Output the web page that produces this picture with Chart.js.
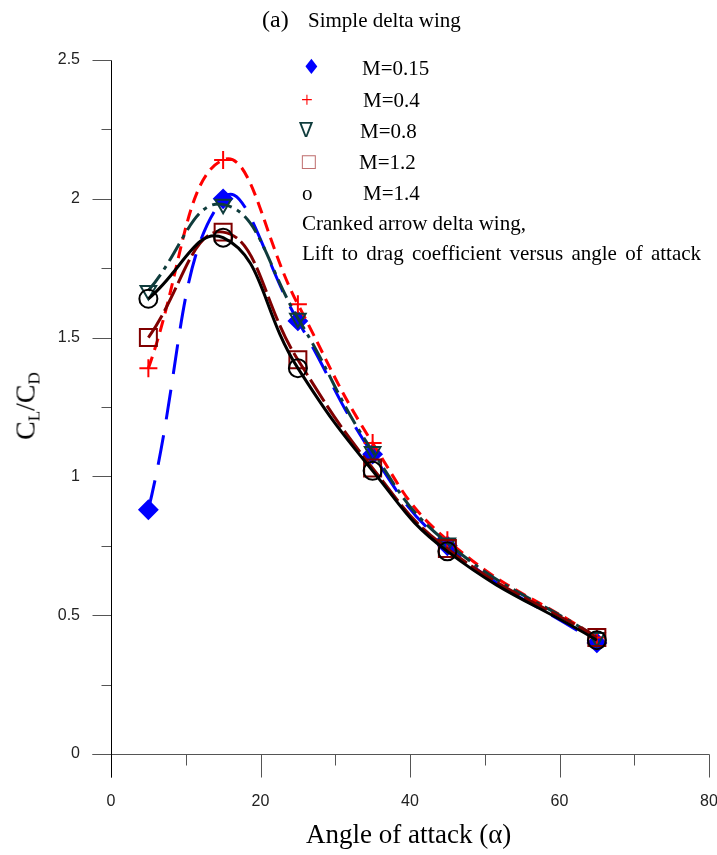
<!DOCTYPE html>
<html>
<head>
<meta charset="utf-8">
<script src="https://cdn.jsdelivr.net/npm/chart.js@4/dist/chart.umd.min.js"></script>
<style>
	html, body { margin: 0; padding: 0; background: #fff; overflow: hidden; }
	#wrap { position: relative; width: 717px; height: 855px; overflow: hidden; font-family: 'Liberation Serif', 'Times New Roman', serif; color: #000; }
	#wrap canvas { position: absolute; left: 0; top: 0; }
	.t { position: absolute; white-space: nowrap; line-height: 1; }
	.lg { font-size: 21px; }
	.mk { font-family: 'DejaVu Sans', sans-serif; }
	#ylab { font-size: 28px; transform: translate(-50%, -50%) rotate(-90deg); }
	#ylab sub { font-size: 17px; vertical-align: -5px; }
</style>
</head>
<body>
<div id="wrap">
	<canvas id="chart" width="723" height="855"></canvas>
	<div class="t" style="left:262px; top:7px; font-size:24px">(a)</div>
	<div class="t" style="left:308px; top:10px; font-size:21px">Simple delta wing</div>

	<div class="t lg mk" style="left:302px; top:57px; color:#0000ff; font-size:21px">&#9830;</div>
	<div class="t lg" style="left:362px; top:58px">M=0.15</div>
	<div class="t lg" style="left:301px; top:90px; color:#ff0000">+</div>
	<div class="t lg" style="left:363px; top:90px">M=0.4</div>
	<div class="t lg mk" style="left:299px; top:120px; color:#0f3c3c; font-size:21px">&#8711;</div>
	<div class="t lg" style="left:360px; top:121px">M=0.8</div>
	<div class="t lg mk" style="left:300px; top:152px; color:#c07070; font-size:18px">&#9633;</div>
	<div class="t lg" style="left:359px; top:152px">M=1.2</div>
	<div class="t lg" style="left:302px; top:183px">o</div>
	<div class="t lg" style="left:363px; top:183px">M=1.4</div>
	<div class="t lg" style="left:302px; top:213px">Cranked arrow delta wing,</div>
	<div class="t lg" style="left:302px; top:243px; word-spacing:3px">Lift to drag coefficient versus angle of attack</div>

	<div class="t" id="ylab" style="left:27px; top:406px">C<sub>L</sub>/C<sub>D</sub></div>
	<div class="t" style="left:306px; top:821px; font-size:27px">Angle of attack (&alpha;)</div>
</div>
<script>
const angles = [5, 15, 25, 35, 45, 65];
const m015 = [0.88, 2.00, 1.56, 1.08, 0.75, 0.40];
const m04 = [1.39, 2.14, 1.62, 1.12, 0.77, 0.42];
const m08 = [1.67, 1.98, 1.57, 1.09, 0.76, 0.42];
const m12 = [1.50, 1.88, 1.42, 1.03, 0.74, 0.42];
const m14 = [1.64, 1.86, 1.39, 1.02, 0.73, 0.41];

const xTicks = [0, 20, 40, 60, 80];
const xMinor = [10, 30, 50, 70];
const yTicks = [0, 0.5, 1, 1.5, 2, 2.5];
const yMinor = [0.25, 0.75, 1.25, 1.75, 2.25];

const pts = vals => vals.map((v, i) => ({ x: angles[i], y: v }));

const series = (label, vals, color, dash, style, extra = {}) => Object.assign({
	label,
	data: pts(vals),
	borderColor: color,
	borderWidth: 3,
	borderDash: dash,
	borderCapStyle: 'butt',
	tension: 0.45,
	fill: false,
	pointStyle: style,
	pointRadius: 9,
	pointBorderWidth: 2,
	pointBorderColor: color,
	pointBackgroundColor: 'rgba(0,0,0,0)'
}, extra);

const axesPlugin = {
	id: 'axes',
	beforeDatasetsDraw(chart) {
		const { ctx, scales: { x, y } } = chart;
		const px = v => Math.round(x.getPixelForValue(v)) + 0.5,
			py = v => Math.round(y.getPixelForValue(v)) + 0.5;
		const x0 = px(0), y0 = py(0);

		ctx.save();
		ctx.lineWidth = 1;
		ctx.strokeStyle = '#555';
		ctx.beginPath();
		ctx.moveTo(x0 - 19, y0);
		ctx.lineTo(px(80), y0);
		xTicks.forEach(v => { ctx.moveTo(px(v), y0); ctx.lineTo(px(v), y0 + 23); });
		xMinor.forEach(v => { ctx.moveTo(px(v), y0); ctx.lineTo(px(v), y0 + 11); });
		yTicks.forEach(v => { ctx.moveTo(x0, py(v)); ctx.lineTo(x0 - 19, py(v)); });
		yMinor.forEach(v => { ctx.moveTo(x0, py(v)); ctx.lineTo(x0 - 10, py(v)); });
		ctx.stroke();

		// y axis is black and runs down through the x zero tick
		ctx.strokeStyle = '#000';
		ctx.beginPath();
		ctx.moveTo(x0, py(2.5));
		ctx.lineTo(x0, y0 + 23);
		ctx.stroke();
		ctx.restore();
	}
};

const tickFont = { family: "'Liberation Sans', Arial, sans-serif", size: 16 };

new Chart(document.getElementById('chart'), {
	type: 'line',
	data: {
		datasets: [
			series('M=1.4', m14, '#000000', [], 'circle', { order: 0 }),
			series('M=1.2', m12, '#800000', [26, 5], 'rect', { order: 1, pointRadius: 12 }),
			series('M=0.8', m08, '#0f3c3c', [20, 6, 4, 6], 'triangle', { order: 2, pointRotation: 180 }),
			series('M=0.4', m04, '#ff0000', [12, 7], 'cross', { order: 3 }),
			series('M=0.15', m015, '#0000ff', [30, 16], 'rectRot', { order: 4, pointBackgroundColor: '#0000ff' })
		]
	},
	options: {
		responsive: false,
		animation: false,
		devicePixelRatio: 1,
		layout: { padding: { top: 60, right: 2, left: 0, bottom: 0 } },
		plugins: {
			legend: { display: false },
			tooltip: { enabled: false }
		},
		scales: {
			x: {
				type: 'linear',
				min: 0,
				max: 80,
				grid: { display: false, drawTicks: true, tickLength: 38 },
				border: { display: false },
				afterBuildTicks: s => { s.ticks = xTicks.map(value => ({ value })); },
				afterFit: s => { s.height = 101; s.paddingLeft = 0; s.paddingRight = 0; },
				ticks: { font: tickFont, color: '#222', padding: 0, maxRotation: 0, callback: v => String(v) }
			},
			y: {
				min: 0,
				max: 2.5,
				grid: { display: false, drawTicks: true, tickLength: 31 },
				border: { display: false },
				afterBuildTicks: s => { s.ticks = yTicks.map(value => ({ value })); },
				afterFit: s => { s.width = 111; s.paddingTop = 0; s.paddingBottom = 0; },
				ticks: { font: tickFont, color: '#222', padding: 0, callback: v => String(v) }
			}
		}
	},
	plugins: [axesPlugin]
});
</script>
</body>
</html>
